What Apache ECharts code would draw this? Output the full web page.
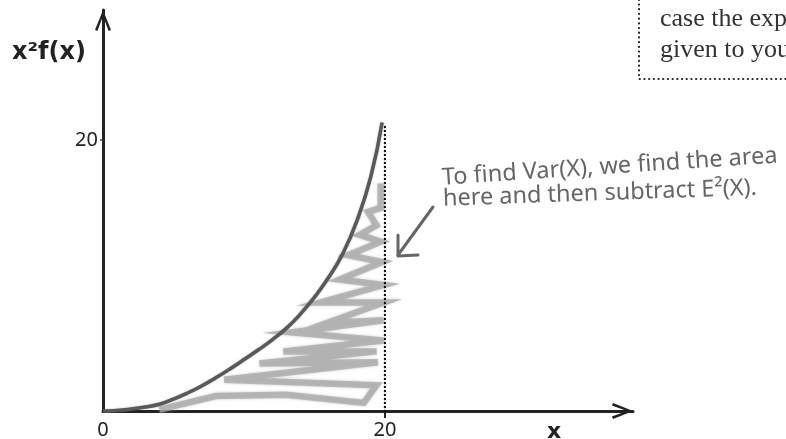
<!DOCTYPE html>
<html><head><meta charset="utf-8">
<script src="https://cdn.jsdelivr.net/npm/echarts@6/dist/echarts.min.js"></script>
<style>html,body{margin:0;padding:0;background:#fff}#c{width:786px;height:439px}</style>
</head><body><div id="c"></div>
<script>
// Curve x^2 f(x)
const curveX = [0, 1, 2, 3, 4, 5, 6, 7, 8, 9, 10, 11, 12, 13, 14, 15, 16, 17, 18, 19, 19.8];
const curveY = [0, 0.04, 0.15, 0.3, 0.5, 0.88, 1.33, 1.85, 2.45, 3.1, 3.8, 4.5, 5.25, 6.1, 7.15, 8.4, 9.85, 11.6, 14.0, 17.3, 21.3];
// Hand-drawn hatching under the curve (zigzag)
const zigX = [19.7, 19.7, 18.8, 19.4, 18.2, 19.7, 17.4, 19.8, 16.8, 19.9, 15.4, 19.9, 15.9, 19.9, 13.4, 19.9, 12.8, 19.4, 11.1, 19.5, 8.6, 19.4, 18.5, 13, 8, 4.0];
const zigY = [16.8, 15.0, 14.7, 13.7, 13.0, 12.5, 11.5, 11.0, 9.7, 9.3, 8.0, 8.0, 6.5, 6.7, 5.8, 5.2, 4.4, 4.4, 3.5, 3.6, 2.3, 1.9, 0.6, 1.2, 1.1, 0.1];
// Dotted boundary at x = 20
const boundX = [20, 20];
const boundY = [0, 21.1];
// Tick labels
const xTickLabels = [0, 20];
const yTickLabels = [20];
const xMax = 37.6, yMax = 29.6;

const zip = (a, b) => a.map((v, i) => [v, b[i]]);
const chevron = 'path://M8,0 L16,20 L13.6,21.2 L8,6.2 L2.4,21.2 L0,20 Z';
const axisLineCommon = {
  show: true, onZero: false,
  symbol: ['none', chevron], symbolSize: [16, 22], symbolOffset: [0, -10.5],
  lineStyle: { color: '#222', width: 3 }
};
const chart = echarts.init(document.getElementById('c'), null, { renderer: 'canvas' });
chart.setOption({
  animation: false,
  grid: { left: 103, right: 153, top: 10, bottom: 28, containLabel: false, outerBoundsMode: 'none' },
  xAxis: {
    type: 'value', min: 0, max: xMax,
    axisLine: axisLineCommon,
    splitLine: { show: false },
    axisTick: { show: true, customValues: [20], length: 7, lineStyle: { color: '#222', width: 2 } },
    axisLabel: { customValues: xTickLabels, margin: 9, fontFamily: 'Noto Sans', fontSize: 20, color: '#222' }
  },
  yAxis: {
    type: 'value', min: 0, max: yMax,
    axisLine: axisLineCommon,
    splitLine: { show: false },
    axisTick: { show: true, customValues: yTickLabels, length: 3, lineStyle: { color: '#444', width: 1.5 } },
    axisLabel: { customValues: yTickLabels, margin: 5, fontFamily: 'Noto Sans', fontSize: 20, color: '#222' }
  },
  series: [
    {
      type: 'line', data: zip(zigX, zigY), symbol: 'none', z: 2,
      lineStyle: { color: 'rgba(165,165,165,0.7)', width: 6.5, join: 'miter', cap: 'butt', shadowBlur: 3, shadowColor: 'rgba(180,180,180,0.9)' }
    },
    {
      type: 'line', data: zip(curveX, curveY), symbol: 'none', smooth: 0.5, z: 3,
      lineStyle: { color: '#595959', width: 3.5, shadowBlur: 1.5, shadowColor: 'rgba(80,80,80,0.6)' }
    },
    {
      type: 'line', data: zip(boundX, boundY), symbol: 'none', z: 4,
      lineStyle: { color: '#111', width: 2.4, type: [0.1, 3.9], cap: 'round' }
    }
  ],
  graphic: [
    { type: 'text', left: 12, top: 41, style: { text: 'x²f(x)', font: 'bold 24px "DejaVu Sans"', fill: '#222' } },
    { type: 'text', x: 554, y: 432, style: { text: 'x', font: 'bold 22px "DejaVu Sans"', fill: '#222', align: 'center', verticalAlign: 'middle', textAlign: 'center', textVerticalAlign: 'middle' } },
    { type: 'text', x: 442, y: 178, rotation: 0.066, style: { text: 'To find Var(X), we find the area', font: '23.5px "Noto Sans"', fill: '#666', align: 'left', verticalAlign: 'middle', textAlign: 'left', textVerticalAlign: 'middle' } },
    { type: 'text', x: 443, y: 199, rotation: 0.035, style: { text: 'here and then subtract E²(X).', font: '23.5px "Noto Sans"', fill: '#666', align: 'left', verticalAlign: 'middle', textAlign: 'left', textVerticalAlign: 'middle' } },
    { type: 'polyline', shape: { points: [[433, 207], [398, 255]] }, style: { stroke: '#666', lineWidth: 3, fill: null, lineCap: 'round' } },
    { type: 'polyline', shape: { points: [[398, 235], [398, 256], [418, 255]] }, style: { stroke: '#666', lineWidth: 3, fill: null, lineCap: 'round', lineJoin: 'round' } },
    { type: 'rect', shape: { x: 639, y: -20, width: 200, height: 99 }, style: { fill: null, stroke: '#222', lineWidth: 2.2, lineDash: [0.1, 4.6], lineCap: 'round' } },
    { type: 'text', x: 660, y: 32, style: { text: 'case the exp', font: '26px "Liberation Serif"', fill: '#333', align: 'left', verticalAlign: 'bottom', textAlign: 'left', textVerticalAlign: 'bottom' } },
    { type: 'text', x: 660, y: 63, style: { text: 'given to you', font: '26px "Liberation Serif"', fill: '#333', align: 'left', verticalAlign: 'bottom', textAlign: 'left', textVerticalAlign: 'bottom' } }
  ]
});
</script></body></html>
